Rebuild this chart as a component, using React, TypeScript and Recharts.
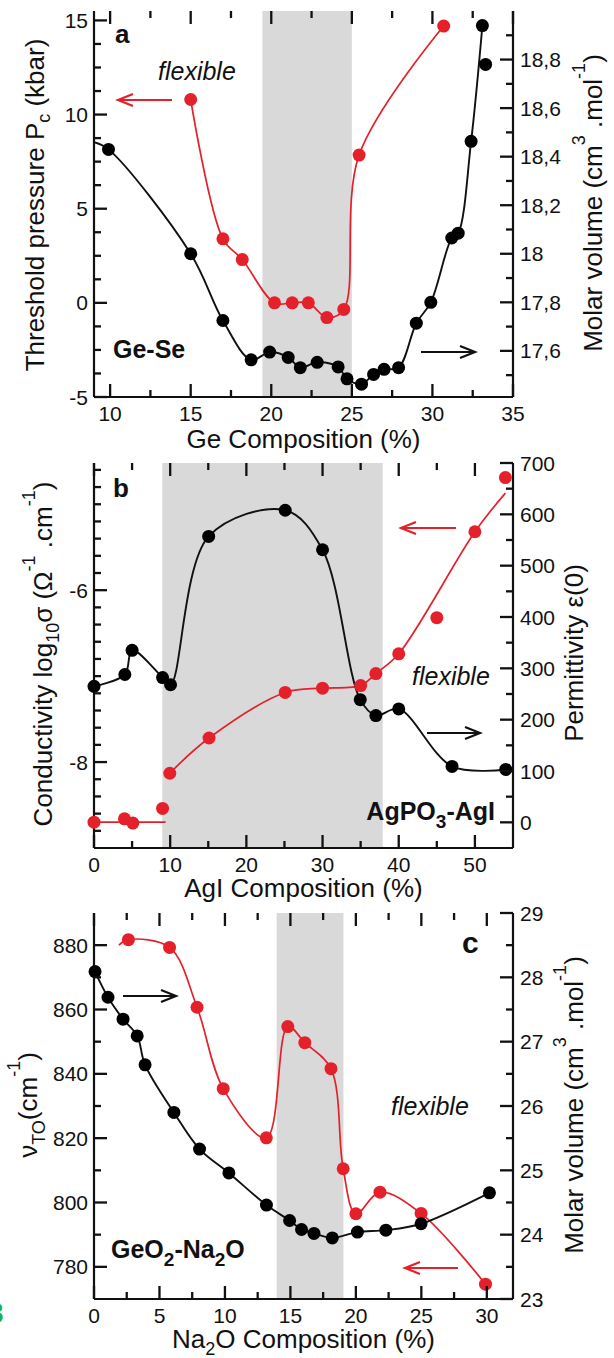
import React from "react"
import { ComposedChart, Line, Scatter, XAxis, YAxis, ReferenceArea } from "recharts"

const FONT = "'Liberation Sans', Arial, Helvetica, sans-serif"
const RED = "#e4212a"
const INK = "#111111"
const BAND = "#d9d9d9"
const GREEN = "#1db04a"

// ---------- (a) Ge-Se ----------
// threshold pressure Pc (kbar), left axis
const geSeXPc = [15, 17, 18.2, 20.2, 21.3, 22.3, 23.45, 24.5, 25.45, 30.7]
const geSePc = [10.8, 3.4, 2.3, 0, 0, 0, -0.78, -0.35, 7.85, 14.7]
// molar volume (cm3/mol), right axis
const geSeXVol = [9.9, 15, 17, 18.75, 19.9, 21.05, 21.8, 22.85, 24.15, 24.7, 25.6, 26.35, 27, 27.9, 29, 29.9, 31.2, 31.6, 32.4, 33.1, 33.3]
const geSeVol = [18.43, 18.0, 17.725, 17.563, 17.595, 17.573, 17.531, 17.553, 17.534, 17.485, 17.463, 17.503, 17.524, 17.531, 17.714, 17.8, 18.065, 18.085, 18.463, 18.94, 18.78]
// guide curve enters from the left frame
const geSeVolGuideStart = { x: 9, y: 18.46 }
const geSeBand = [19.45, 25.0]
const geSeXLabels = [10, 15, 20, 25, 30, 35]
const geSePcLabels = [-5, 0, 5, 10, 15]
const geSeVolLabels = [17.6, 17.8, 18, 18.2, 18.4, 18.6, 18.8]

// ---------- (b) AgPO3-AgI ----------
// conductivity log10(sigma), left axis
const agiXSigma = [0, 4, 5.1, 9, 9.95, 15.1, 25.1, 30, 35, 37, 40, 45, 50, 54]
const agiSigma = [-8.7, -8.66, -8.71, -8.54, -8.13, -7.72, -7.19, -7.14, -7.11, -6.97, -6.74, -6.32, -5.32, -4.69]
// guide lines for the conductivity
const agiSigmaLowX = [0, 9.4]
const agiSigmaLow = [-8.7, -8.7]
const agiSigmaHighX = [9.95, 15.1, 25.1, 30, 35, 37, 40, 50, 54]
const agiSigmaHigh = [-8.13, -7.72, -7.19, -7.14, -7.11, -6.97, -6.74, -5.32, -4.87]
// permittivity eps(0), right axis
const agiXEps = [0, 4.05, 5.0, 9.0, 10.05, 15.05, 25.1, 30, 34.95, 37, 40, 47, 54.05]
const agiEps = [265, 288, 335, 282, 268, 557, 608, 531, 239, 208, 221, 109, 103]
const agiBand = [8.97, 37.9]
const agiXLabels = [0, 10, 20, 30, 40, 50]
const agiSigmaLabels = [-8, -6]
const agiEpsLabels = [0, 100, 200, 300, 400, 500, 600, 700]

// ---------- (c) GeO2-Na2O ----------
// nu_TO (cm-1), left axis
const naXNu = [2.63, 5.77, 7.87, 9.87, 13.16, 14.8, 16.1, 18.1, 19.03, 20.0, 21.84, 24.98, 29.9]
const naNu = [881.7, 879.3, 860.7, 835.4, 820.1, 854.7, 849.7, 841.6, 810.5, 796.5, 803.2, 796.6, 774.6]
const naNuGuideStart = { x: 1.9, y: 880.0 }
// molar volume, right axis
const naXVol = [0.08, 1.07, 2.22, 3.3, 3.9, 6.1, 8.06, 10.3, 13.17, 14.94, 15.85, 16.8, 18.2, 20.12, 22.29, 24.98, 30.2]
const naVol = [28.09, 27.69, 27.35, 27.09, 26.64, 25.9, 25.33, 24.96, 24.46, 24.22, 24.08, 24.02, 23.95, 24.04, 24.07, 24.17, 24.65]
const naBand = [13.95, 19.05]
const naXLabels = [0, 5, 10, 15, 20, 25, 30]
const naNuLabels = [780, 800, 820, 840, 860, 880]
const naVolLabels = [23, 24, 25, 26, 27, 28, 29]

const zip = (xs: number[], ys: number[]) => xs.map((x, i) => ({ x, y: ys[i] }))

const steps = (from: number, to: number, step: number) => {
  const out: number[] = []
  for (let i = 0; from + i * step <= to + 1e-9; i++) out.push(+(from + i * step).toFixed(4))
  return out
}

// centripetal Catmull-Rom, same maths as d3's curveCatmullRom
function catmullRom(alpha: number) {
  return (context: any) => {
    let pts: number[][] = []
    return {
      areaStart() {},
      areaEnd() {},
      lineStart() {
        pts = []
      },
      point(x: number, y: number) {
        pts.push([+x, +y])
      },
      lineEnd() {
        if (!pts.length) return
        const dist = (a: number[], b: number[]) => Math.pow(Math.hypot(b[0] - a[0], b[1] - a[1]), alpha)
        context.moveTo(pts[0][0], pts[0][1])
        for (let i = 0; i < pts.length - 1; i++) {
          const p0 = pts[i - 1] ?? pts[i]
          const p1 = pts[i]
          const p2 = pts[i + 1]
          const p3 = pts[i + 2] ?? pts[i + 1]
          const d01 = dist(p0, p1)
          const d12 = dist(p1, p2)
          const d23 = dist(p2, p3)
          let c1 = p1
          let c2 = p2
          if (d01 > 1e-9) {
            const a = 2 * d01 * d01 + 3 * d01 * d12 + d12 * d12
            const n = 3 * d01 * (d01 + d12)
            c1 = [0, 1].map((k) => (p1[k] * a - p0[k] * d12 * d12 + p2[k] * d01 * d01) / n)
          }
          if (d23 > 1e-9) {
            const b = 2 * d23 * d23 + 3 * d23 * d12 + d12 * d12
            const m = 3 * d23 * (d23 + d12)
            c2 = [0, 1].map((k) => (p2[k] * b + p1[k] * d23 * d23 - p3[k] * d12 * d12) / m)
          }
          context.bezierCurveTo(c1[0], c1[1], c2[0], c2[1], p2[0], p2[1])
        }
      },
    }
  }
}
const smooth = catmullRom(0.5)

type Side = "left" | "right" | "bottom" | "top"
type AxisSpec = { domain: number[]; ticks: number[]; labels: number[]; fmt?: (v: number) => string }

const isLabelled = (labels: number[], v: number) => labels.some((m) => Math.abs(m - v) < 1e-6)

// tick labels only; with tickSize/tickMargin 0 the (x, y) sits on the axis line
const tickLabel = (side: Side, labels: number[], fmt: (v: number) => string = String) => (props: any) => {
  const { x, y, payload } = props
  const v = payload.value
  if (!isLabelled(labels, v)) return <g />
  const txt = { fontFamily: FONT, fontSize: 21, fill: INK }
  if (side === "left")
    return <text x={x - 6} y={y} dy="0.36em" textAnchor="end" {...txt}>{fmt(v)}</text>
  if (side === "right")
    return <text x={x + 7} y={y} dy="0.36em" textAnchor="start" {...txt}>{fmt(v)}</text>
  return <text x={x} y={y + 24} textAnchor="middle" {...txt}>{fmt(v)}</text>
}

// inward tick mark drawn at a scaled (cx, cy) on the frame
const tickMark = (side: Side) => (p: any) => {
  const len = p.payload.major ? 13 : 7
  const { cx, cy } = p
  const d =
    side === "left" ? `M${cx},${cy}h${len}`
    : side === "right" ? `M${cx},${cy}h${-len}`
    : side === "bottom" ? `M${cx},${cy}v${-len}`
    : `M${cx},${cy}v${len}`
  return <path d={d} stroke={INK} strokeWidth={2.3} fill="none" />
}

function frameTicks(x: AxisSpec, left: AxisSpec, right: AxisSpec) {
  const [x0, x1] = x.domain
  const [l0, l1] = left.domain
  const yTicks = (spec: AxisSpec, at: number) => spec.ticks.map((v) => ({ x: at, y: v, major: isLabelled(spec.labels, v) }))
  const xTicks = (at: number) => x.ticks.map((v) => ({ x: v, y: at, major: isLabelled(x.labels, v) }))
  const common = { xAxisId: "b", dataKey: "y", isAnimationActive: false }
  return [
    <Scatter key="tl" {...common} yAxisId="l" data={yTicks(left, x0)} shape={tickMark("left")} />,
    <Scatter key="tr" {...common} yAxisId="r" data={yTicks(right, x1)} shape={tickMark("right")} />,
    <Scatter key="tb" {...common} yAxisId="l" data={xTicks(l0)} shape={tickMark("bottom")} />,
    <Scatter key="tt" {...common} yAxisId="l" data={xTicks(l1)} shape={tickMark("top")} />,
  ]
}

const comma = (v: number) => String(Math.round(v * 10) / 10).replace(".", ",")

const dot = (color: string) => (p: any) => <circle cx={p.cx} cy={p.cy} r={6.5} fill={color} />

const axisLine = { stroke: INK, strokeWidth: 2.2 }
const bare = { tickSize: 0, tickMargin: 0, tickLine: false, axisLine, interval: 0 as const }

function Panel(props: {
  top: number
  marginTop: number
  plotHeight: number
  x: AxisSpec
  left: AxisSpec
  right: AxisSpec
  band: number[]
  children: React.ReactNode
}) {
  const { top, marginTop, plotHeight, x, left, right, band, children } = props
  return (
    <div style={{ position: "absolute", left: 0, top }}>
      <ComposedChart
        width={614}
        height={marginTop + plotHeight + 50}
        margin={{ top: marginTop, right: 0, bottom: 0, left: 0 }}
      >
        <ReferenceArea xAxisId="b" yAxisId="l" x1={band[0]} x2={band[1]} fill={BAND} fillOpacity={1} stroke="none" />
        <XAxis xAxisId="b" dataKey="x" type="number" domain={x.domain} ticks={x.ticks} height={50} {...bare}
          tick={tickLabel("bottom", x.labels)} />
        <XAxis xAxisId="t" orientation="top" dataKey="x" type="number" domain={x.domain} height={0} {...bare}
          tick={false} />
        <YAxis yAxisId="l" type="number" domain={left.domain} ticks={left.ticks} width={94} {...bare}
          tick={tickLabel("left", left.labels, left.fmt)} />
        <YAxis yAxisId="r" orientation="right" type="number" domain={right.domain} ticks={right.ticks} width={101} {...bare}
          tick={tickLabel("right", right.labels, right.fmt)} />
        {children}
        {frameTicks(x, left, right)}
      </ComposedChart>
    </div>
  )
}

function Arrow({ x1, x2, y, color }: { x1: number; x2: number; y: number; color: string }) {
  const dir = Math.sign(x2 - x1)
  return (
    <g stroke={color} strokeWidth={2.2} fill="none">
      <line x1={x1} y1={y} x2={x2} y2={y} />
      <polyline points={`${x2 - dir * 15},${y - 6} ${x2},${y} ${x2 - dir * 15},${y + 6}`} />
    </g>
  )
}

export default function App() {
  const geSePcPts = zip(geSeXPc, geSePc)
  const geSeVolPts = zip(geSeXVol, geSeVol)
  // the last (33.3 %) point is not on the guide curve
  const geSeVolCurve = [geSeVolGuideStart, ...geSeVolPts.slice(0, -1)]

  const agiSigmaPts = zip(agiXSigma, agiSigma)
  const agiEpsPts = zip(agiXEps, agiEps)

  const naNuPts = zip(naXNu, naNu)
  const naVolPts = zip(naXVol, naVol)

  const title = { fontFamily: FONT, fontSize: 26, fill: INK }
  const series = { xAxisId: "b", dataKey: "y", activeDot: false, isAnimationActive: false }

  return (
    <div style={{ position: "absolute", left: 0, top: 0, width: 614, height: 1358, background: "#fff", overflow: "hidden" }}>
      <Panel
        top={0}
        marginTop={11}
        plotHeight={386}
        band={geSeBand}
        x={{ domain: [9, 35], ticks: steps(10, 35, 2.5), labels: geSeXLabels }}
        left={{ domain: [-5, 15.5], ticks: steps(-5, 15, 1.25), labels: geSePcLabels }}
        right={{ domain: [17.41, 19.0], ticks: steps(17.5, 18.9, 0.1), labels: geSeVolLabels, fmt: comma }}
      >
        <Line {...series} yAxisId="l" data={geSePcPts} type={smooth as any} stroke={RED} strokeWidth={1.7} dot={false} />
        <Line {...series} yAxisId="r" data={geSeVolCurve} type={smooth as any} stroke={INK} strokeWidth={1.9} dot={false} />
        <Scatter xAxisId="b" yAxisId="l" data={geSePcPts} dataKey="y" shape={dot(RED)} isAnimationActive={false} />
        <Scatter xAxisId="b" yAxisId="r" data={geSeVolPts} dataKey="y" shape={dot("#000")} isAnimationActive={false} />
      </Panel>

      <Panel
        top={440}
        marginTop={23}
        plotHeight={385}
        band={agiBand}
        x={{ domain: [0, 55], ticks: steps(0, 50, 5), labels: agiXLabels }}
        left={{ domain: [-9, -4.52], ticks: steps(-8.8, -4.6, 0.2), labels: agiSigmaLabels }}
        right={{ domain: [-50, 700], ticks: steps(0, 700, 50), labels: agiEpsLabels }}
      >
        <Line {...series} yAxisId="l" data={zip(agiSigmaLowX, agiSigmaLow)} type="linear" stroke={RED} strokeWidth={1.7} dot={false} />
        <Line {...series} yAxisId="l" data={zip(agiSigmaHighX, agiSigmaHigh)} type={smooth as any} stroke={RED} strokeWidth={1.7} dot={false} />
        <Line {...series} yAxisId="r" data={agiEpsPts} type={smooth as any} stroke={INK} strokeWidth={1.9} dot={false} />
        <Scatter xAxisId="b" yAxisId="l" data={agiSigmaPts} dataKey="y" shape={dot(RED)} isAnimationActive={false} />
        <Scatter xAxisId="b" yAxisId="r" data={agiEpsPts} dataKey="y" shape={dot("#000")} isAnimationActive={false} />
      </Panel>

      <Panel
        top={890}
        marginTop={23}
        plotHeight={386}
        band={naBand}
        x={{ domain: [0, 32], ticks: steps(0, 30, 2.5), labels: naXLabels }}
        left={{ domain: [770, 890], ticks: steps(780, 880, 10), labels: naNuLabels }}
        right={{ domain: [23, 29], ticks: steps(23, 29, 0.5), labels: naVolLabels }}
      >
        <Line {...series} yAxisId="l" data={[naNuGuideStart, ...naNuPts]} type={smooth as any} stroke={RED} strokeWidth={1.7} dot={false} />
        <Line {...series} yAxisId="r" data={naVolPts} type={smooth as any} stroke={INK} strokeWidth={1.9} dot={false} />
        <Scatter xAxisId="b" yAxisId="l" data={naNuPts} dataKey="y" shape={dot(RED)} isAnimationActive={false} />
        <Scatter xAxisId="b" yAxisId="r" data={naVolPts} dataKey="y" shape={dot("#000")} isAnimationActive={false} />
      </Panel>

      <svg width={614} height={1358} style={{ position: "absolute", left: 0, top: 0, pointerEvents: "none" }}>
        {/* panel a */}
        <text x={115} y={43} fontFamily={FONT} fontSize={26} fontWeight="bold" fill={INK}>a</text>
        <text x={158} y={80} fontFamily={FONT} fontSize={25} fontStyle="italic" fill={INK}>flexible</text>
        <Arrow x1={172} x2={118} y={100} color={RED} />
        <text x={113} y={358} fontFamily={FONT} fontSize={25} fontWeight="bold" fill={INK}>Ge-Se</text>
        <Arrow x1={421} x2={475} y={352} color={INK} />
        <text x={303.5} y={448} textAnchor="middle" {...title}>Ge Composition (%)</text>
        <text transform="translate(44,205) rotate(-90)" textAnchor="middle" {...title}>
          Threshold pressure P<tspan dy={6} fontSize={18}>c</tspan>
          <tspan dy={-6}> (kbar)</tspan>
        </text>
        <text transform="translate(602,203) rotate(-90)" textAnchor="middle" {...title}>
          Molar volume (cm<tspan dy={-17} fontSize={18}>3</tspan>
          <tspan dy={17}> .mol</tspan>
          <tspan dy={-17} fontSize={18}>-1</tspan>
          <tspan dy={17}>)</tspan>
        </text>

        {/* panel b */}
        <text x={113} y={497} fontFamily={FONT} fontSize={26} fontWeight="bold" fill={INK}>b</text>
        <Arrow x1={456} x2={401} y={528} color={RED} />
        <text x={412} y={685} fontFamily={FONT} fontSize={25} fontStyle="italic" fill={INK}>flexible</text>
        <Arrow x1={427} x2={480} y={733} color={INK} />
        <text x={495} y={820} textAnchor="end" fontFamily={FONT} fontSize={25} fontWeight="bold" fill={INK}>
          AgPO<tspan dy={8} fontSize={19}>3</tspan>
          <tspan dy={-8}>-AgI</tspan>
        </text>
        <text x={303.5} y={897} textAnchor="middle" {...title}>AgI Composition (%)</text>
        <text transform="translate(52,654) rotate(-90)" textAnchor="middle" {...title}>
          Conductivity log<tspan dy={7} fontSize={18}>10</tspan>
          <tspan dy={-7}>σ (Ω</tspan>
          <tspan dy={-17} fontSize={18}>-1</tspan>
          <tspan dy={17}> .cm</tspan>
          <tspan dy={-17} fontSize={18}>-1</tspan>
          <tspan dy={17}>)</tspan>
        </text>
        <text transform="translate(583,653) rotate(-90)" textAnchor="middle" {...title}>Permittivity ε(0)</text>

        {/* panel c */}
        <text x={462} y={953} fontFamily={FONT} fontSize={30} fontWeight="bold" fill={INK}>c</text>
        <Arrow x1={123} x2={176} y={996} color={INK} />
        <text x={391} y={1115} fontFamily={FONT} fontSize={25} fontStyle="italic" fill={INK}>flexible</text>
        <text x={111} y={1258} fontFamily={FONT} fontSize={25} fontWeight="bold" fill={INK}>
          GeO<tspan dy={8} fontSize={19}>2</tspan>
          <tspan dy={-8}>-Na</tspan>
          <tspan dy={8} fontSize={19}>2</tspan>
          <tspan dy={-8}>O</tspan>
        </text>
        <Arrow x1={458} x2={405} y={1268} color={RED} />
        <text x={303.5} y={1348} textAnchor="middle" {...title}>
          Na<tspan dy={7} fontSize={18}>2</tspan>
          <tspan dy={-7}>O Composition (%)</tspan>
        </text>
        <text transform="translate(37,1105) rotate(-90)" textAnchor="middle" {...title}>
          ν<tspan dy={8} fontSize={18}>TO</tspan>
          <tspan dy={-8}>(cm</tspan>
          <tspan dy={-17} fontSize={18}>-1</tspan>
          <tspan dy={17}>)</tspan>
        </text>
        <text transform="translate(583,1105) rotate(-90)" textAnchor="middle" {...title}>
          Molar volume (cm<tspan dy={-17} fontSize={18}>3</tspan>
          <tspan dy={17}> .mol</tspan>
          <tspan dy={-17} fontSize={18}>-1</tspan>
          <tspan dy={17}>)</tspan>
        </text>

        {/* clipped figure tag at the lower-left edge */}
        <text x={-13} y={1323} fontFamily={FONT} fontSize={30} fontWeight="bold" fill={GREEN}>3</text>
      </svg>
    </div>
  )
}
